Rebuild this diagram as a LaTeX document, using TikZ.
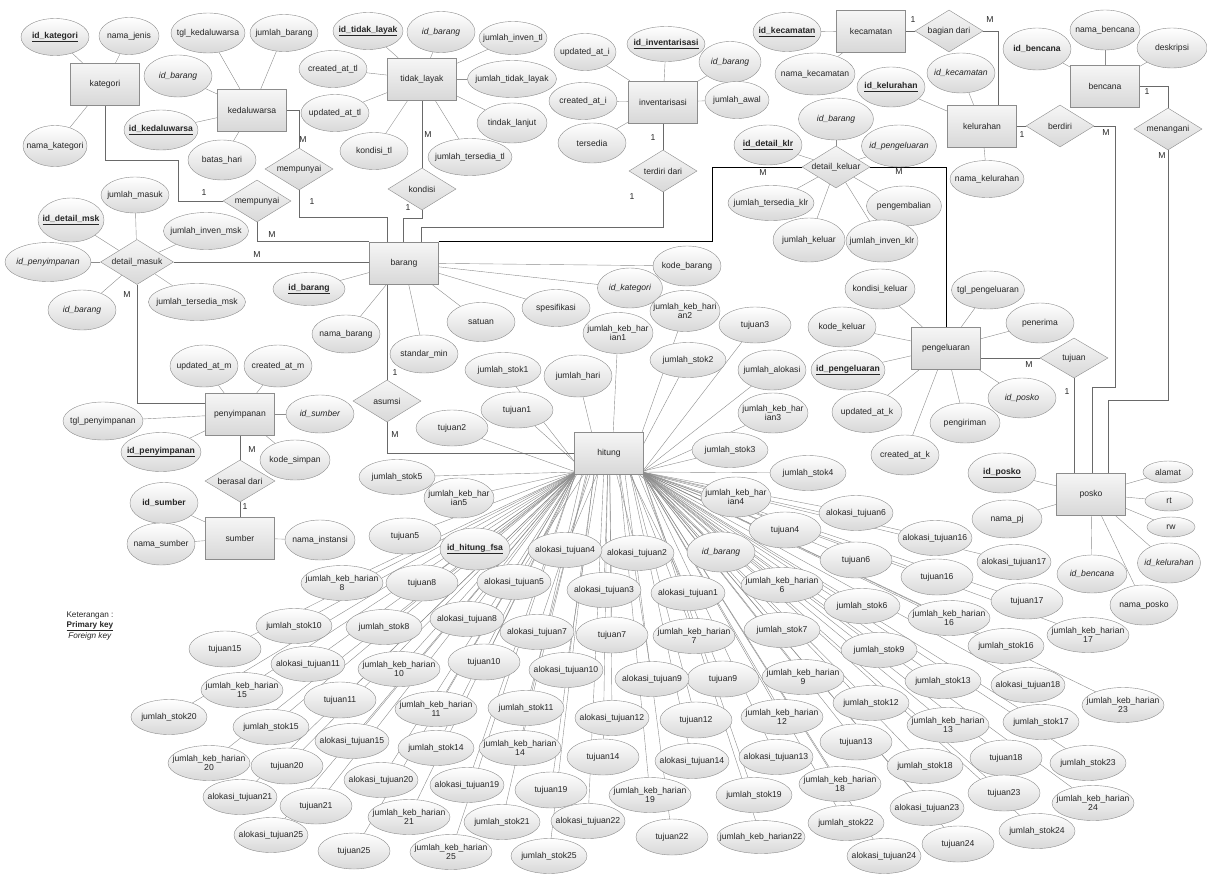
\documentclass[tikz,border=0pt]{standalone}
\usepackage{fontspec}
\setmainfont{Liberation Sans}
\definecolor{erline}{RGB}{140,140,140}
\definecolor{erfill}{RGB}{216,216,216}
\definecolor{erlight}{RGB}{246,246,246}
\definecolor{erlink}{RGB}{105,105,105}
\tikzset{every picture/.style={/utils/exec={\fontsize{8.6}{9.6}\selectfont}}}
\usetikzlibrary{calc,shapes.geometric,backgrounds}
\newcommand{\pk}[1]{\setbox0=\hbox{\textbf{#1}}\rlap{\rule[-2.4pt]{\wd0}{0.6pt}}\box0}
\newcommand{\fk}[1]{\textit{#1}}

\begin{document}
\begin{tikzpicture}[x=1pt,y=-1pt,
  every node/.style={text=black!85},
  entity/.style={draw=erline, top color=erlight, bottom color=erfill, minimum width=69pt, minimum height=42pt, inner sep=1pt},
  attr/.style={ellipse, draw=erline, top color=white, bottom color=erfill, minimum width=68pt, minimum height=37pt, inner xsep=-20pt, inner ysep=0pt, align=center},
  rel/.style={diamond, draw=erline, top color=erlight, bottom color=erfill, minimum width=68pt, minimum height=42pt, inner sep=-4pt, shape aspect=1.6},
  card/.style={inner sep=0pt},
  att/.style={draw=erline, line width=0.4pt},
  link/.style={draw=erlink, line width=0.7pt}]
  \useasboundingbox (0,0) rectangle (1207,873);

  % entities
  \node [entity] (kategori) at (105,84) {kategori};
  \node [entity] (kedaluwarsa) at (252,110) {kedaluwarsa};
  \node [entity] (tidaklayak) at (422,79) {tidak\_layak};
  \node [entity] (inventarisasi) at (663,102) {inventarisasi};
  \node [entity] (kecamatan) at (871,31) {kecamatan};
  \node [entity] (kelurahan) at (982,126) {kelurahan};
  \node [entity] (bencana) at (1105,86) {bencana};
  \node [entity] (barang) at (404,263) {barang};
  \node [entity] (penyimpanan) at (240,414) {penyimpanan};
  \node [entity] (sumber) at (240,538) {sumber};
  \node [entity] (hitung) at (609,453) {hitung};
  \node [entity] (pengeluaran) at (946,348) {pengeluaran};
  \node [entity] (posko) at (1091,494) {posko};

  % relationships
  \node [rel] (mempunyaiA) at (257,201) {mempunyai};
  \node [rel] (mempunyaiB) at (299,169) {mempunyai};
  \node [rel] (kondisi) at (422,189) {kondisi};
  \node [rel] (terdiri) at (663,171) {terdiri dari};
  \node [rel] (bagian) at (949,31) {bagian dari};
  \node [rel] (berdiri) at (1060,126) {berdiri};
  \node [rel] (menangani) at (1168,129) {menangani};
  \node [rel, minimum width=73pt, minimum height=45pt] (detailmasuk) at (137,262) {detail\_masuk};
  \node [rel] (detailkeluar) at (836,167) {detail\_keluar};
  \node [rel] (asumsi) at (387,401) {asumsi};
  \node [rel, minimum width=70pt] (berasal) at (240,481) {berasal dari};
  \node [rel, minimum height=40pt] (tujuan) at (1074,358) {tujuan};

  % kategori, kedaluwarsa, tidak_layak
  \node [attr] (idkategori) at (55,37) {\pk{id\_kategori}};
  \node [attr, minimum width=60pt] (namajenis) at (129,36) {nama\_jenis};
  \node [attr, minimum width=64pt, minimum height=41pt] (namakategori) at (55,146) {nama\_kategori};
  \node [attr, minimum width=74pt, minimum height=40pt] (tglkedaluwarsa) at (208,33) {tgl\_kedaluwarsa};
  \node [attr] (jumlahbarang) at (284,33) {jumlah\_barang};
  \node [attr, minimum height=42pt] (kdidbarang) at (178,76) {\fk{id\_barang}};
  \node [attr, minimum width=74pt, minimum height=40pt] (idkedaluwarsa) at (161,130) {\pk{id\_kedaluwarsa}};
  \node [attr, minimum height=40pt] (batashari) at (222,160) {batas\_hari};
  \node [attr, minimum width=70pt] (idtidaklayak) at (368,31) {\pk{id\_tidak\_layak}};
  \node [attr, minimum height=41pt] (tlidbarang) at (441,32) {\fk{id\_barang}};
  \node [attr, minimum height=33pt] (jumlahinventl) at (513,38) {jumlah\_inven\_tl};
  \node [attr] (createdattl) at (333,69) {created\_at\_tl};
  \node [attr, minimum width=89pt] (jumlahtidaklayak) at (512,79) {jumlah\_tidak\_layak};
  \node [attr] (updatedattl) at (335,113) {updated\_at\_tl};
  \node [attr, minimum width=70pt, minimum height=40pt] (tindaklanjut) at (512,123) {tindak\_lanjut};
  \node [attr] (kondisitl) at (374,151) {kondisi\_tl};
  \node [attr, minimum width=84pt] (jumlahtersediatl) at (470,157) {jumlah\_tersedia\_tl};

  % inventarisasi, kecamatan, kelurahan, bencana
  \node [attr, minimum width=78pt, minimum height=35pt] (idinventarisasi) at (666,44) {\pk{id\_inventarisasi}};
  \node [attr, minimum width=62pt] (updatedati) at (585,52) {updated\_at\_i};
  \node [attr] (createdati) at (583,101) {created\_at\_i};
  \node [attr, minimum height=40pt] (tersedia) at (592,143) {tersedia};
  \node [attr, minimum width=62pt, minimum height=41pt] (invidbarang) at (730,62) {\fk{id\_barang}};
  \node [attr, minimum width=64pt] (jumlahawal) at (737,100) {jumlah\_awal};
  \node [attr, minimum height=39pt] (idkecamatan) at (787,32) {\pk{id\_kecamatan}};
  \node [attr, minimum width=80pt, minimum height=42pt] (namakecamatan) at (815,74) {nama\_kecamatan};
  \node [attr, minimum height=40pt] (idkelurahan) at (891,87) {\pk{id\_kelurahan}};
  \node [attr, minimum height=40pt] (klidkecamatan) at (961,73) {\fk{id\_kecamatan}};
  \node [attr, minimum width=74pt] (namakelurahan) at (987,179) {nama\_kelurahan};
  \node [attr, minimum height=42pt] (idbencana) at (1037,49) {\textbf{id\_bencana}};
  \node [attr, minimum width=70pt, minimum height=40pt] (namabencana) at (1105,30) {nama\_bencana};
  \node [attr, minimum width=70pt, minimum height=40pt] (deskripsi) at (1172,48) {deskripsi};

  % detail_keluar, barang, detail_masuk
  \node [attr, minimum width=75pt, minimum height=42pt] (dkidbarang) at (836,119) {\fk{id\_barang}};
  \node [attr, minimum height=40pt] (iddetailklr) at (768,145) {\pk{id\_detail\_klr}};
  \node [attr, minimum width=75pt, minimum height=42pt] (dkidpengeluaran) at (899,146) {\fk{id\_pengeluaran}};
  \node [attr, minimum width=86pt, minimum height=35pt] (jumlahtersediaklr) at (771,203) {jumlah\_tersedia\_klr};
  \node [attr, minimum width=75pt, minimum height=40pt] (pengembalian) at (904,206) {pengembalian};
  \node [attr, minimum width=72pt, minimum height=44pt] (jumlahkeluar) at (809,240) {jumlah\_keluar};
  \node [attr, minimum width=72pt, minimum height=42pt] (jumlahinvenklr) at (882,241) {jumlah\_inven\_klr};
  \node [attr, minimum width=72pt, minimum height=33pt] (idbarang) at (309,289) {\pk{id\_barang}};
  \node [attr, minimum height=38pt] (namabarang) at (346,334) {nama\_barang};
  \node [attr, minimum height=38pt] (standarmin) at (424,354) {standar\_min};
  \node [attr, minimum height=39pt] (satuan) at (481,322) {satuan};
  \node [attr, minimum height=37pt] (spesifikasi) at (556,308) {spesifikasi};
  \node [attr, minimum width=65pt, minimum height=40pt] (brgidkategori) at (630,288) {\fk{id\_kategori}};
  \node [attr, minimum height=40pt] (kodebarang) at (687,266) {kode\_barang};
  \node [attr, minimum height=36pt] (jumlahmasuk) at (135,195) {jumlah\_masuk};
  \node [attr, minimum width=66pt, minimum height=44pt] (iddetailmsk) at (71,220) {\pk{id\_detail\_msk}};
  \node [attr, minimum width=85pt] (jumlahinvenmsk) at (206,231) {jumlah\_inven\_msk};
  \node [attr, minimum width=86pt, minimum height=39pt] (dmidpenyimpanan) at (48,262) {\fk{id\_penyimpanan}};
  \node [attr, minimum height=40pt] (dmidbarang) at (82,310) {\fk{id\_barang}};
  \node [attr, minimum width=97pt] (jumlahtersediamsk) at (197,302) {jumlah\_tersedia\_msk};

  % penyimpanan, sumber
  \node [attr, minimum height=42pt] (updatedatm) at (204,366) {updated\_at\_m};
  \node [attr, minimum height=42pt] (createdatm) at (278,366) {created\_at\_m};
  \node [attr, minimum width=80pt, minimum height=38pt] (tglpenyimpanan) at (103,421) {tgl\_penyimpanan};
  \node [attr, minimum width=80pt, minimum height=39pt] (idpenyimpanan) at (161,452) {\pk{id\_penyimpanan}};
  \node [attr, minimum height=38pt] (pyidsumber) at (320,414) {\fk{id\_sumber}};
  \node [attr, minimum width=70pt, minimum height=40pt] (kodesimpan) at (295,460) {kode\_simpan};
  \node [attr, minimum height=41pt] (idsumber) at (164,503) {\textbf{id\_sumber}};
  \node [attr, minimum height=42pt] (namasumber) at (161,544) {nama\_sumber};
  \node [attr, minimum width=70pt, minimum height=40pt] (namainstansi) at (320,540) {nama\_instansi};

  % pengeluaran, posko
  \node [attr, minimum width=70pt, minimum height=40pt] (kondisikeluar) at (880,289) {kondisi\_keluar};
  \node [attr, minimum width=73pt, minimum height=38pt] (tglpengeluaran) at (988,290) {tgl\_pengeluaran};
  \node [attr, minimum height=40pt] (penerima) at (1040,323) {penerima};
  \node [attr, minimum height=40pt] (kodekeluar) at (842,327) {kode\_keluar};
  \node [attr, minimum width=74pt, minimum height=40pt] (idpengeluaran) at (848,370) {\pk{id\_pengeluaran}};
  \node [attr, minimum width=70pt, minimum height=41pt] (updatedatk) at (867,412) {updated\_at\_k};
  \node [attr, minimum height=40pt] (createdatk) at (905,455) {created\_at\_k};
  \node [attr, minimum width=70pt, minimum height=40pt] (pengiriman) at (965,423) {pengiriman};
  \node [attr, minimum height=40pt] (pgidposko) at (1022,398) {\fk{id\_posko}};
  \node [attr, minimum height=40pt] (idposko) at (1002,473) {\pk{id\_posko}};
  \node [attr, minimum width=70pt, minimum height=38pt] (namapj) at (1007,519) {nama\_pj};
  \node [attr, minimum width=50pt, minimum height=22pt] (alamat) at (1168,472) {alamat};
  \node [attr, minimum width=48pt, minimum height=20pt] (rt) at (1169,501) {rt};
  \node [attr, minimum width=48pt, minimum height=20pt] (rw) at (1171,527) {rw};
  \node [attr, minimum width=63pt, minimum height=40pt] (pskidkelurahan) at (1169,563) {\fk{id\_kelurahan}};
  \node [attr, minimum width=70pt, minimum height=38pt] (pskidbencana) at (1092,574) {\fk{id\_bencana}};
  \node [attr, minimum height=40pt] (namaposko) at (1144,605) {nama\_posko};

  % hitung
  \node [attr, minimum height=42pt] (jumlahhari) at (578,376) {jumlah\_hari};
  \node [attr, minimum height=40pt] (jumlahalokasi) at (772,370) {jumlah\_alokasi};
  \node [attr, minimum height=40pt] (htidbarang) at (721,552) {\fk{id\_barang}};
  \node [attr, minimum width=70pt, minimum height=42pt] (idhitungfsa) at (475,549) {\pk{id\_hitung\_fsa}};
  \foreach \i/\x/\y in {1/517/410, 2/452/428, 3/755/325, 4/785/530, 5/405/536, 6/856/560, 7/612/635, 8/422/583, 9/723/679, 10/484/662, 11/340/700, 12/696/720, 13/856/742, 14/603/757, 15/225/649, 16/937/577, 17/1027/601, 18/1006/758, 19/551/790, 20/287/766, 21/316/806, 22/672/837, 23/1004/793, 24/958/844, 25/354/851}
    \node [attr, minimum width=72pt, minimum height=36pt] (tujuan\i) at (\x,\y) {tujuan\i};
  \foreach \i/\x/\y in {1/503/370, 2/688/360, 3/730/450, 4/808/473, 5/397/477, 6/862/606, 7/782/630, 8/384/627, 9/879/650, 10/294/626, 11/526/708, 12/871/703, 13/943/681, 14/436/748, 15/271/727, 16/1006/646, 17/1041/722, 18/925/766, 19/754/795, 20/169/717, 21/502/822, 22/846/823, 23/1088/763, 24/1037/831, 25/549/856}
    \node [attr, minimum width=76pt, minimum height=35pt] (stok\i) at (\x,\y) {jumlah\_stok\i};
  \foreach \i/\x/\y in {1/688/593, 2/637/553, 3/604/590, 4/565/550, 5/514/582, 6/856/513, 7/537/632, 8/467/619, 9/652/679, 10/566/670, 11/308/664, 12/612/718, 13/776/757, 14/692/761, 15/352/741, 16/935/538, 17/1014/562, 18/1028/685, 19/467/785, 20/381/780, 21/240/797, 22/588/821, 23/927/808, 24/884/856, 25/271/835}
    \node [attr, minimum width=74pt, minimum height=35pt] (alokasi\i) at (\x,\y) {alokasi\_tujuan\i};
  \foreach \i/\x/\y in {6/782/585, 7/694/636, 8/342/583, 9/803/677, 10/399/669, 11/436/709, 12/782/717, 13/948/725, 14/520/748, 15/242/690, 16/949/618, 17/1088/635, 18/840/784, 19/650/795, 20/209/763, 21/409/817, 23/1123/705, 24/1093/803, 25/451/852}
    \node [attr, minimum width=82pt, minimum height=35pt] (keb\i) at (\x,\y) {jumlah\_keb\_harian\\\i};
  \node [attr, minimum width=70pt, minimum height=41pt] (keb1) at (618,333) {jumlah\_keb\_har\\ian1};
  \node [attr, minimum width=70pt, minimum height=41pt] (keb2) at (685,311) {jumlah\_keb\_hari\\an2};
  \node [attr, minimum width=70pt, minimum height=40pt] (keb3) at (773,413) {jumlah\_keb\_har\\ian3};
  \node [attr, minimum width=70pt, minimum height=40pt] (keb4) at (736,497) {jumlah\_keb\_har\\ian4};
  \node [attr, minimum width=70pt, minimum height=40pt] (keb5) at (459,498) {jumlah\_keb\_har\\ian5};
  \node [attr, minimum width=88pt, minimum height=33pt] (keb22) at (761,837) {jumlah\_keb\_harian22};

  % cardinalities
  \foreach \n/\x/\y/\t in {c1/204/193/1, c2/272/235/M, c3/303/140/M, c4/312/202/1, c5/428/135/M, c6/408/208/1, c7/653/138/1, c8/632/197/1, c9/257/255/M, c10/127/295/M, c11/763/173/M, c12/899/172/M, c13/913/20/1, c14/990/20/M, c15/1022/135/1, c16/1106/133/M, c17/1147/92/1, c18/1162/156/M, c19/1029/365/M, c20/1067/392/1, c21/395/373/1, c22/395/435/M, c23/252/450/M, c24/245/507/1}
    \node [card] (\n) at (\x,\y) {\t};

  \node [align=center, font=\fontsize{8.2}{10.6}\selectfont] (keterangan) at (90,626) {Keterangan :\\\pk{Primary key}\\\fk{Foreign key}};

  \coordinate (bend1) at (178,160);
  \coordinate (bend2) at (387,217);
  \coordinate (bend3) at (403,218);
  \coordinate (bend4) at (421,227);
  \coordinate (bend5) at (712,167);
  \coordinate (bend6) at (137,403);
  \coordinate (bend7) at (998,31);
  \coordinate (bend8) at (1115,126);
  \coordinate (bend9) at (1092,387);
  \coordinate (bend10) at (1108,400);

  \begin{scope}[on background layer]
    \draw [att] (kategori) edge (idkategori) edge (namajenis) edge (namakategori);
    \draw [att] (kedaluwarsa) edge (tglkedaluwarsa) edge (jumlahbarang) edge (kdidbarang) edge (idkedaluwarsa) edge (batashari);
    \draw [att] (tidaklayak) edge (idtidaklayak) edge (tlidbarang) edge (jumlahinventl) edge (createdattl) edge (jumlahtidaklayak) edge (updatedattl) edge (tindaklanjut) edge (kondisitl) edge (jumlahtersediatl);
    \draw [att] (inventarisasi) edge (idinventarisasi) edge (updatedati) edge (createdati) edge (tersedia) edge (invidbarang) edge (jumlahawal);
    \draw [att] (kecamatan) edge (idkecamatan) edge (namakecamatan);
    \draw [att] (kelurahan) edge (idkelurahan) edge (klidkecamatan) edge (namakelurahan);
    \draw [att] (bencana) edge (idbencana) edge (namabencana) edge (deskripsi);
    \draw [att] (detailkeluar) edge (dkidbarang) edge (iddetailklr) edge (dkidpengeluaran) edge (jumlahtersediaklr) edge (pengembalian) edge (jumlahkeluar) edge (jumlahinvenklr);
    \draw [att] (barang) edge (idbarang) edge (namabarang) edge (standarmin) edge (satuan) edge (spesifikasi) edge (brgidkategori) edge (kodebarang);
    \draw [att] (detailmasuk) edge (jumlahmasuk) edge (iddetailmsk) edge (jumlahinvenmsk) edge (dmidpenyimpanan) edge (dmidbarang) edge (jumlahtersediamsk);
    \draw [att] (penyimpanan) edge (updatedatm) edge (createdatm) edge (tglpenyimpanan) edge (idpenyimpanan) edge (pyidsumber) edge (kodesimpan);
    \draw [att] (sumber) edge (idsumber) edge (namasumber) edge (namainstansi);
    \draw [att] (pengeluaran) edge (kondisikeluar) edge (tglpengeluaran) edge (penerima) edge (kodekeluar) edge (idpengeluaran) edge (updatedatk) edge (createdatk) edge (pengiriman) edge (pgidposko);
    \draw [att] (posko) edge (idposko) edge (namapj) edge (alamat) edge (rt) edge (rw) edge (pskidkelurahan) edge (pskidbencana) edge (namaposko);
    % hitung fan: lines leave along the whole bottom edge
    \foreach \g in {jumlahhari,jumlahalokasi,htidbarang,idhitungfsa}
      \draw [att] let \p1=(\g), \n1={max(-33,min(33,0.25*(\x1-609pt)))} in ({609pt+\n1},-472pt) -- (\g);
    \foreach \i in {1,...,25}
      \foreach \g in {tujuan,stok,keb,alokasi}
        \draw [att] let \p1=(\g\i), \n1={max(-33,min(33,0.25*(\x1-609pt)))} in ({609pt+\n1},-472pt) -- (\g\i);

    \draw [link] (kategori.south) |- (bend1) |- (mempunyaiA.west);
    \draw [link] (mempunyaiA.south) |- (barang.north west);
    \draw [link] (kedaluwarsa.east) -| (mempunyaiB.north);
    \draw [link] (mempunyaiB.south) |- (bend2) -- (bend2 |- barang.north);
    \draw [link] (tidaklayak) -- (kondisi);
    \draw [link] (kondisi.south) |- (bend3) -- (bend3 |- barang.north);
    \draw [link] (inventarisasi) -- (terdiri);
    \draw [link] (terdiri.south) |- (bend4) -- (bend4 |- barang.north);
    \draw [link, draw=black] (barang.north east) -| (bend5) -- (detailkeluar.west);
    \draw [link, draw=black] (detailkeluar.east) -| (pengeluaran.north);
    \draw [link] (detailmasuk.east) -- (detailmasuk.east -| barang.west);
    \draw [link] (detailmasuk.south) -- (bend6) -- (bend6 -| penyimpanan.west);
    \draw [link] (penyimpanan) -- (berasal) -- (sumber);
    \draw [link] (asumsi.north |- barang.south) -- (asumsi.north);
    \draw [link] (asumsi.south) |- (hitung.west);
    \draw [link] (kecamatan) -- (bagian);
    \draw [link] (bagian.east) -- (bend7) -- (bend7 |- kelurahan.north);
    \draw [link] (kelurahan) -- (berdiri);
    \draw [link] (berdiri.east) -- (bend8) |- (bend9) -- (bend9 |- posko.north);
    \draw [link] (bencana.east) -| (menangani.north);
    \draw [link] (menangani.south) |- (bend10) -- (bend10 |- posko.north);
    \draw [link] (pengeluaran.east |- tujuan.west) -- (tujuan.west);
    \draw [link] (tujuan.south) -- (tujuan.south |- posko.north);
  \end{scope}
\end{tikzpicture}
\end{document}
